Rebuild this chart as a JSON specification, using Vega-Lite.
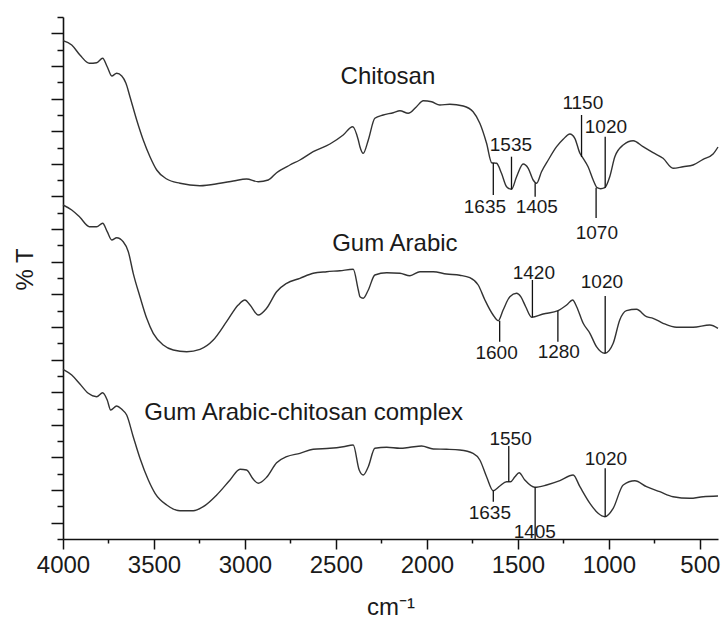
{
  "$schema": "https://vega.github.io/schema/vega-lite/v6.json",
  "width": 655,
  "height": 522,
  "autosize": {"type": "none"},
  "padding": {"left": 63, "top": 17, "right": 3, "bottom": 84},
  "background": "white",
  "config": {
    "view": {"stroke": null},
    "font": "Liberation Sans"
  },
  "datasets": {
    "spectra": [
      {"s":"Chitosan","w":4000,"t":498.3},{"s":"Chitosan","w":3952,"t":494},{"s":"Chitosan","w":3907,"t":484},{"s":"Chitosan","w":3855,"t":475.7},{"s":"Chitosan","w":3815,"t":476.3},{"s":"Chitosan","w":3782,"t":480.7},{"s":"Chitosan","w":3757,"t":472.3},{"s":"Chitosan","w":3732,"t":463},{"s":"Chitosan","w":3705,"t":465.7},{"s":"Chitosan","w":3677,"t":463},{"s":"Chitosan","w":3654,"t":455.7},{"s":"Chitosan","w":3632,"t":442.3},{"s":"Chitosan","w":3595,"t":419},{"s":"Chitosan","w":3559,"t":399},{"s":"Chitosan","w":3522,"t":382.3},{"s":"Chitosan","w":3485,"t":369},{"s":"Chitosan","w":3430,"t":360},{"s":"Chitosan","w":3357,"t":355.7},{"s":"Chitosan","w":3247,"t":353.3},{"s":"Chitosan","w":3137,"t":355.7},{"s":"Chitosan","w":3064,"t":358},{"s":"Chitosan","w":2991,"t":360},{"s":"Chitosan","w":2927,"t":357.3},{"s":"Chitosan","w":2872,"t":359},{"s":"Chitosan","w":2826,"t":366.3},{"s":"Chitosan","w":2753,"t":374},{"s":"Chitosan","w":2698,"t":379},{"s":"Chitosan","w":2625,"t":387.3},{"s":"Chitosan","w":2533,"t":395},{"s":"Chitosan","w":2460,"t":404},{"s":"Chitosan","w":2408,"t":412.3},{"s":"Chitosan","w":2377,"t":399},{"s":"Chitosan","w":2368,"t":392.3},{"s":"Chitosan","w":2350,"t":385.7},{"s":"Chitosan","w":2322,"t":399},{"s":"Chitosan","w":2286,"t":420.7},{"s":"Chitosan","w":2240,"t":424},{"s":"Chitosan","w":2185,"t":426.3},{"s":"Chitosan","w":2148,"t":428.3},{"s":"Chitosan","w":2103,"t":425.7},{"s":"Chitosan","w":2057,"t":432.3},{"s":"Chitosan","w":2020,"t":438.3},{"s":"Chitosan","w":1974,"t":437.3},{"s":"Chitosan","w":1929,"t":434},{"s":"Chitosan","w":1874,"t":434.7},{"s":"Chitosan","w":1800,"t":433},{"s":"Chitosan","w":1746,"t":427.3},{"s":"Chitosan","w":1709,"t":415.7},{"s":"Chitosan","w":1672,"t":395.7},{"s":"Chitosan","w":1644,"t":376.3},{"s":"Chitosan","w":1617,"t":375.7},{"s":"Chitosan","w":1590,"t":365.7},{"s":"Chitosan","w":1562,"t":352.3},{"s":"Chitosan","w":1535,"t":349.7},{"s":"Chitosan","w":1507,"t":362.3},{"s":"Chitosan","w":1471,"t":375},{"s":"Chitosan","w":1443,"t":370.7},{"s":"Chitosan","w":1416,"t":359},{"s":"Chitosan","w":1397,"t":355.7},{"s":"Chitosan","w":1370,"t":367.3},{"s":"Chitosan","w":1333,"t":379},{"s":"Chitosan","w":1287,"t":392.3},{"s":"Chitosan","w":1251,"t":399.7},{"s":"Chitosan","w":1214,"t":405},{"s":"Chitosan","w":1187,"t":400.7},{"s":"Chitosan","w":1159,"t":385.7},{"s":"Chitosan","w":1141,"t":380.7},{"s":"Chitosan","w":1114,"t":372.3},{"s":"Chitosan","w":1086,"t":359},{"s":"Chitosan","w":1064,"t":351.3},{"s":"Chitosan","w":1045,"t":350.3},{"s":"Chitosan","w":1022,"t":351.3},{"s":"Chitosan","w":995,"t":362.3},{"s":"Chitosan","w":967,"t":382.3},{"s":"Chitosan","w":921,"t":394},{"s":"Chitosan","w":866,"t":398.3},{"s":"Chitosan","w":812,"t":392.3},{"s":"Chitosan","w":757,"t":386.3},{"s":"Chitosan","w":702,"t":380.7},{"s":"Chitosan","w":647,"t":370.7},{"s":"Chitosan","w":592,"t":372.3},{"s":"Chitosan","w":537,"t":374},{"s":"Chitosan","w":482,"t":379.7},{"s":"Chitosan","w":427,"t":385},{"s":"Chitosan","w":400,"t":392},
      {"s":"Gum Arabic","w":4000,"t":334},{"s":"Gum Arabic","w":3952,"t":329},{"s":"Gum Arabic","w":3907,"t":321.7},{"s":"Gum Arabic","w":3855,"t":312.3},{"s":"Gum Arabic","w":3815,"t":312.3},{"s":"Gum Arabic","w":3782,"t":315.7},{"s":"Gum Arabic","w":3757,"t":307.3},{"s":"Gum Arabic","w":3732,"t":299},{"s":"Gum Arabic","w":3705,"t":301.3},{"s":"Gum Arabic","w":3669,"t":297.3},{"s":"Gum Arabic","w":3641,"t":287.3},{"s":"Gum Arabic","w":3614,"t":265.7},{"s":"Gum Arabic","w":3577,"t":242.3},{"s":"Gum Arabic","w":3540,"t":220.7},{"s":"Gum Arabic","w":3504,"t":205.7},{"s":"Gum Arabic","w":3449,"t":194},{"s":"Gum Arabic","w":3394,"t":189},{"s":"Gum Arabic","w":3320,"t":187.3},{"s":"Gum Arabic","w":3247,"t":189.7},{"s":"Gum Arabic","w":3174,"t":199},{"s":"Gum Arabic","w":3101,"t":217.3},{"s":"Gum Arabic","w":3037,"t":234},{"s":"Gum Arabic","w":3000,"t":239},{"s":"Gum Arabic","w":2972,"t":234},{"s":"Gum Arabic","w":2927,"t":224},{"s":"Gum Arabic","w":2881,"t":230.7},{"s":"Gum Arabic","w":2826,"t":247.3},{"s":"Gum Arabic","w":2771,"t":255.7},{"s":"Gum Arabic","w":2698,"t":260.7},{"s":"Gum Arabic","w":2625,"t":265.7},{"s":"Gum Arabic","w":2551,"t":267.3},{"s":"Gum Arabic","w":2478,"t":268.3},{"s":"Gum Arabic","w":2405,"t":269.7},{"s":"Gum Arabic","w":2377,"t":249},{"s":"Gum Arabic","w":2368,"t":242.3},{"s":"Gum Arabic","w":2350,"t":240.7},{"s":"Gum Arabic","w":2322,"t":249},{"s":"Gum Arabic","w":2286,"t":264},{"s":"Gum Arabic","w":2221,"t":266.3},{"s":"Gum Arabic","w":2148,"t":265.7},{"s":"Gum Arabic","w":2093,"t":263.3},{"s":"Gum Arabic","w":2038,"t":267.3},{"s":"Gum Arabic","w":1965,"t":267.3},{"s":"Gum Arabic","w":1892,"t":265},{"s":"Gum Arabic","w":1819,"t":263.7},{"s":"Gum Arabic","w":1764,"t":261.3},{"s":"Gum Arabic","w":1718,"t":254},{"s":"Gum Arabic","w":1681,"t":239},{"s":"Gum Arabic","w":1636,"t":224},{"s":"Gum Arabic","w":1608,"t":218.3},{"s":"Gum Arabic","w":1581,"t":229},{"s":"Gum Arabic","w":1544,"t":242.3},{"s":"Gum Arabic","w":1507,"t":245.7},{"s":"Gum Arabic","w":1484,"t":242.3},{"s":"Gum Arabic","w":1457,"t":232.3},{"s":"Gum Arabic","w":1424,"t":221.7},{"s":"Gum Arabic","w":1361,"t":225},{"s":"Gum Arabic","w":1279,"t":228.3},{"s":"Gum Arabic","w":1232,"t":234},{"s":"Gum Arabic","w":1199,"t":239},{"s":"Gum Arabic","w":1177,"t":232.3},{"s":"Gum Arabic","w":1141,"t":215.7},{"s":"Gum Arabic","w":1104,"t":205.7},{"s":"Gum Arabic","w":1068,"t":192.3},{"s":"Gum Arabic","w":1022,"t":185.7},{"s":"Gum Arabic","w":976,"t":195.7},{"s":"Gum Arabic","w":940,"t":219},{"s":"Gum Arabic","w":903,"t":228.3},{"s":"Gum Arabic","w":848,"t":229.7},{"s":"Gum Arabic","w":793,"t":222.3},{"s":"Gum Arabic","w":757,"t":220.7},{"s":"Gum Arabic","w":702,"t":215.7},{"s":"Gum Arabic","w":628,"t":211.7},{"s":"Gum Arabic","w":537,"t":211.7},{"s":"Gum Arabic","w":445,"t":214},{"s":"Gum Arabic","w":400,"t":210.7},
      {"s":"Complex","w":4000,"t":169.7},{"s":"Complex","w":3952,"t":164},{"s":"Complex","w":3907,"t":155},{"s":"Complex","w":3861,"t":145.7},{"s":"Complex","w":3815,"t":142.3},{"s":"Complex","w":3782,"t":146.3},{"s":"Complex","w":3757,"t":139},{"s":"Complex","w":3738,"t":129},{"s":"Complex","w":3705,"t":133},{"s":"Complex","w":3677,"t":129.7},{"s":"Complex","w":3650,"t":124},{"s":"Complex","w":3614,"t":102.3},{"s":"Complex","w":3577,"t":80.7},{"s":"Complex","w":3531,"t":59},{"s":"Complex","w":3494,"t":45.7},{"s":"Complex","w":3430,"t":34},{"s":"Complex","w":3357,"t":28.3},{"s":"Complex","w":3284,"t":28.3},{"s":"Complex","w":3229,"t":32.3},{"s":"Complex","w":3155,"t":44},{"s":"Complex","w":3082,"t":59},{"s":"Complex","w":3027,"t":69.7},{"s":"Complex","w":2991,"t":69},{"s":"Complex","w":2954,"t":59.7},{"s":"Complex","w":2927,"t":55.7},{"s":"Complex","w":2881,"t":61.7},{"s":"Complex","w":2826,"t":76.3},{"s":"Complex","w":2771,"t":82.3},{"s":"Complex","w":2698,"t":85.7},{"s":"Complex","w":2625,"t":89.7},{"s":"Complex","w":2533,"t":90.7},{"s":"Complex","w":2460,"t":92.3},{"s":"Complex","w":2405,"t":94},{"s":"Complex","w":2372,"t":69},{"s":"Complex","w":2350,"t":64},{"s":"Complex","w":2322,"t":72.3},{"s":"Complex","w":2286,"t":90.7},{"s":"Complex","w":2221,"t":91.7},{"s":"Complex","w":2148,"t":90.7},{"s":"Complex","w":2093,"t":91.7},{"s":"Complex","w":2029,"t":93},{"s":"Complex","w":1965,"t":90},{"s":"Complex","w":1892,"t":89.7},{"s":"Complex","w":1819,"t":89},{"s":"Complex","w":1746,"t":85.7},{"s":"Complex","w":1709,"t":79},{"s":"Complex","w":1672,"t":62.3},{"s":"Complex","w":1636,"t":48.3},{"s":"Complex","w":1599,"t":53},{"s":"Complex","w":1562,"t":57.3},{"s":"Complex","w":1540,"t":57.3},{"s":"Complex","w":1516,"t":62.3},{"s":"Complex","w":1493,"t":66.3},{"s":"Complex","w":1462,"t":59},{"s":"Complex","w":1407,"t":51.7},{"s":"Complex","w":1342,"t":54},{"s":"Complex","w":1269,"t":58.3},{"s":"Complex","w":1196,"t":64},{"s":"Complex","w":1159,"t":52.3},{"s":"Complex","w":1104,"t":35.7},{"s":"Complex","w":1059,"t":25.7},{"s":"Complex","w":1022,"t":22.3},{"s":"Complex","w":976,"t":30.7},{"s":"Complex","w":921,"t":54},{"s":"Complex","w":857,"t":58.3},{"s":"Complex","w":793,"t":52.3},{"s":"Complex","w":720,"t":47.3},{"s":"Complex","w":647,"t":42.3},{"s":"Complex","w":555,"t":40.7},{"s":"Complex","w":482,"t":42.3},{"s":"Complex","w":400,"t":43}
    ],
    "peaks": [
      {"w":1635,"y1":376,"y2":344,"tx":1681,"ty":332.3,"l":"1635"},
      {"w":1535,"y1":349.7,"y2":382.3,"tx":1538,"ty":394,"l":"1535"},
      {"w":1405,"y1":355.7,"y2":342.3,"tx":1396,"ty":332.3,"l":"1405"},
      {"w":1150,"y1":382,"y2":424,"tx":1143,"ty":436,"l":"1150"},
      {"w":1020,"y1":351.3,"y2":402.3,"tx":1016,"ty":412,"l":"1020"},
      {"w":1070,"y1":351.3,"y2":321,"tx":1066,"ty":306,"l":"1070"},
      {"w":1600,"y1":218.3,"y2":197.3,"tx":1617,"ty":185.7,"l":"1600"},
      {"w":1420,"y1":221.7,"y2":259,"tx":1412,"ty":266.3,"l":"1420"},
      {"w":1280,"y1":228.3,"y2":197.3,"tx":1275,"ty":187.3,"l":"1280"},
      {"w":1020,"y1":185.7,"y2":243,"tx":1038,"ty":257.3,"l":"1020"},
      {"w":1635,"y1":48.3,"y2":37.3,"tx":1654,"ty":25.7,"l":"1635"},
      {"w":1550,"y1":57.3,"y2":93,"tx":1540,"ty":99.7,"l":"1550"},
      {"w":1405,"y1":51.7,"y2":0,"tx":1407,"ty":7.3,"l":"1405"},
      {"w":1020,"y1":22.3,"y2":70.7,"tx":1016,"ty":80,"l":"1020"}
    ],
    "names": [
      {"n":"Chitosan","tx":2214,"ty":462.3},
      {"n":"Gum Arabic","tx":2176,"ty":295},
      {"n":"Gum Arabic-chitosan complex","tx":2677,"ty":126.3}
    ]
  },
  "resolve": {"axis": {"x": "independent", "y": "independent"}},
  "layer": [
    {
      "data": {"name": "spectra"},
      "mark": {"type": "line", "color": "#333333", "strokeWidth": 1.4, "interpolate": "monotone"},
      "encoding": {
        "x": {
          "field": "w", "type": "quantitative",
          "scale": {"domain": [400, 4000], "reverse": true, "nice": false, "zero": false},
          "axis": {
            "orient": "bottom",
            "values": [4000,3500,3000,2500,2000,1500,1000,500],
            "format": "d",
            "labelFlush": false,
            "labelOverlap": false,
            "labelFontSize": 24,
            "labelColor": "#1a1a1a",
            "labelPadding": 4,
            "tickSize": 10,
            "tickWidth": 1.5,
            "tickColor": "#111",
            "domainColor": "#111",
            "domainWidth": 1.6,
            "grid": false,
            "title": "cm⁻¹",
            "titleFontSize": 24,
            "titleFontWeight": "normal",
            "titleColor": "#1a1a1a",
            "titlePadding": 18
          }
        },
        "y": {
          "field": "t", "type": "quantitative",
          "scale": {"domain": [0, 522], "nice": false, "zero": false},
          "axis": {
            "orient": "left",
            "values": [0,32.625,65.25,97.875,130.5,163.125,195.75,228.375,261,293.625,326.25,358.875,391.5,424.125,456.75,489.375,522],
            "labels": false,
            "tickSize": 6,
            "tickWidth": 1.5,
            "tickColor": "#111",
            "domainColor": "#111",
            "domainWidth": 1.6,
            "grid": false,
            "title": "% T",
            "titleFontSize": 24,
            "titleFontWeight": "normal",
            "titleColor": "#1a1a1a",
            "titlePadding": 19,
            "titleY": 252
          }
        },
        "detail": {"field": "s", "type": "nominal"}
      }
    },
    {
      "data": {"name": "peaks"},
      "mark": {"type": "rule", "color": "#111", "strokeWidth": 1.3},
      "encoding": {
        "x": {
          "field": "w", "type": "quantitative",
          "axis": {
            "orient": "bottom",
            "values": [3750,3250,2750,2250,1750,1250,750],
            "labels": false,
            "tickSize": 4,
            "tickWidth": 1.5,
            "tickColor": "#111",
            "domain": false,
            "grid": false,
            "title": null
          }
        },
        "y": {
          "field": "y1", "type": "quantitative",
          "axis": {
            "orient": "left",
            "values": [16.3125,48.9375,81.5625,114.1875,146.8125,179.4375,212.0625,244.6875,277.3125,309.9375,342.5625,375.1875,407.8125,440.4375,473.0625,505.6875],
            "labels": false,
            "tickSize": 12,
            "tickWidth": 1.5,
            "tickColor": "#111",
            "domain": false,
            "grid": false,
            "title": null
          }
        },
        "y2": {"field": "y2"}
      }
    },
    {
      "data": {"name": "peaks"},
      "mark": {"type": "text", "fontSize": 19, "color": "#1a1a1a", "align": "center", "baseline": "middle", "font": "Liberation Sans"},
      "encoding": {
        "x": {"field": "tx", "type": "quantitative", "axis": null},
        "y": {"field": "ty", "type": "quantitative", "axis": null},
        "text": {"field": "l", "type": "nominal"}
      }
    },
    {
      "data": {"name": "names"},
      "mark": {"type": "text", "fontSize": 24, "color": "#1a1a1a", "align": "center", "baseline": "middle", "font": "Liberation Sans"},
      "encoding": {
        "x": {"field": "tx", "type": "quantitative", "axis": null},
        "y": {"field": "ty", "type": "quantitative", "axis": null},
        "text": {"field": "n", "type": "nominal"}
      }
    }
  ]
}
